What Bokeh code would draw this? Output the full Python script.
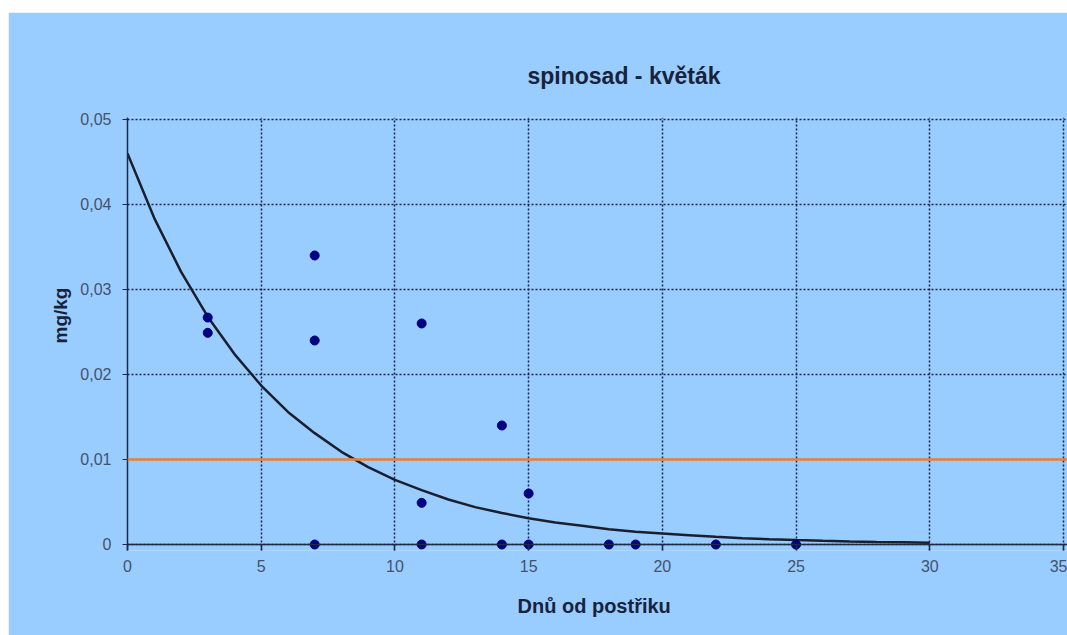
from bokeh.plotting import figure
from bokeh.models import Range1d, FixedTicker, CustomJSTickFormatter, Span, Title
from bokeh.embed import file_html
from bokeh.resources import INLINE

# ---- data ----
days = [3, 3, 7, 7, 7, 11, 11, 11, 14, 14, 15, 15, 18, 19, 22, 25]
residues = [0.0267, 0.0249, 0.034, 0.024, 0.0, 0.026, 0.0049, 0.0,
            0.014, 0.0, 0.006, 0.0, 0.0, 0.0, 0.0, 0.0]
trend_days = list(range(0, 31))
trend_values = [0.046, 0.0384, 0.0321, 0.0268, 0.0224, 0.0187, 0.0156, 0.0131,
                0.0109, 0.0091, 0.0076, 0.0064, 0.0053, 0.0044, 0.0037, 0.0031,
                0.0026, 0.0022, 0.0018, 0.0015, 0.0013, 0.0011, 0.0009, 0.00074,
                0.00062, 0.00052, 0.00043, 0.00036, 0.0003, 0.00025, 0.0002]
limit_value = 0.01
x_ticks = [0, 5, 10, 15, 20, 25, 30, 35]
y_ticks = [0, 0.01, 0.02, 0.03, 0.04, 0.05]
title_text = "spinosad - květák"
x_label = "Dnů od postřiku"
y_label = "mg/kg"

BG = "#99CCFF"
FONT = "Liberation Sans"
AXIS_COL = "#1f2b45"

p = figure(width=1059, height=623, margin=(12, 0, 0, 8),
           output_backend="svg", toolbar_location=None,
           x_range=Range1d(0, 35.15), y_range=Range1d(-0.000706, 0.050235),
           min_border_left=119, min_border_right=0,
           min_border_top=105, min_border_bottom=85,
           background_fill_color=BG, border_fill_color=BG,
           outline_line_color=None)

# axes
p.xaxis.ticker = FixedTicker(ticks=x_ticks)
p.yaxis.ticker = FixedTicker(ticks=y_ticks)
p.yaxis.formatter = CustomJSTickFormatter(
    code="return tick === 0 ? '0' : tick.toFixed(2).replace('.', ',');")
for ax in (p.xaxis[0], p.yaxis[0]):
    ax.axis_line_color = AXIS_COL
    ax.axis_line_width = 1.5
    ax.major_tick_line_color = AXIS_COL
    ax.minor_tick_line_color = None
    ax.major_label_text_font = FONT
    ax.major_label_text_font_size = "16px"
    ax.major_label_text_color = "#44526c"
p.yaxis.major_tick_out = 5
p.yaxis.major_tick_in = 0
p.yaxis.major_label_standoff = 11
# x axis: the frame extends a few px below zero, so ticks point up to the zero line
p.xaxis.axis_line_color = None
p.xaxis.major_tick_out = 0
p.xaxis.major_tick_in = 6
p.xaxis.major_tick_line_width = 1.5
p.xaxis.major_label_standoff = 9

# grid
for g in (p.xgrid[0], p.ygrid[0]):
    g.grid_line_color = "#1a2448"
    g.grid_line_dash = "2 2"
    g.grid_line_width = 1.5
    g.grid_line_alpha = 1.0

# zero line (x axis line)
p.add_layout(Span(location=0, dimension="width",
                  line_color=AXIS_COL, line_width=1.5))

# limit line
p.add_layout(Span(location=limit_value, dimension="width",
                  line_color="#F08030", line_width=2.5))

# trend curve
p.line(trend_days, trend_values, line_color="#1a1f2e", line_width=2.5)

# measured points
p.scatter(days, residues, size=9, color="#000080")

# texts
p.title.text = title_text
p.title.text_font = FONT
p.title.text_font_size = "23px"
p.title.text_font_style = "bold"
p.title.text_color = "#18223a"
p.title.align = "left"
p.title.offset = 400
p.title.standoff = 58

p.add_layout(Title(text=x_label, text_font=FONT, text_font_size="20px",
                   text_font_style="bold", text_color="#18223a",
                   align="left", offset=390, standoff=37), "below")
p.add_layout(Title(text=y_label, text_font=FONT, text_font_size="19px",
                   text_font_style="bold", text_color="#18223a",
                   align="left", offset=207, standoff=13), "left")

open("out.html", "w").write(file_html(p, INLINE))
